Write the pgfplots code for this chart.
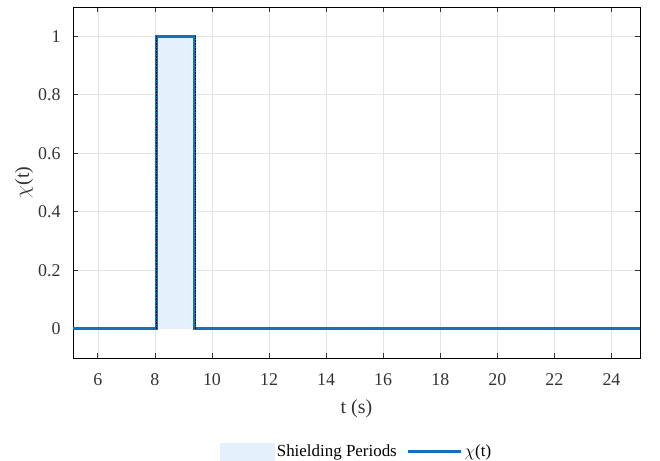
\documentclass[border=0pt]{standalone}
\usepackage{pgfplots}
\pgfplotsset{compat=1.18}
\usepackage{fontspec}
\setmainfont{Liberation Serif}
\definecolor{lineblue}{RGB}{20,112,190}
\definecolor{shadeblue}{RGB}{229,240,253}
\begin{document}
\begin{tikzpicture}
\useasboundingbox (0bp,0bp) rectangle (660bp,461bp);
\begin{axis}[
  at={(73bp,103bp)}, anchor=south west,
  width=567bp, height=351bp, scale only axis,
  xmin=5.13, xmax=25, ymin=-0.1, ymax=1.1,
  xtick={6,8,...,24}, ytick={0,0.2,0.4,0.6,0.8,1},
  yticklabels={0,0.2,0.4,0.6,0.8,1},
  grid=major, major grid style={gray!22, line width=0.6pt},
  tick align=inside, tick pos=both,
  major tick length=5bp,
  axis line style={black, line width=0.7pt},
  tick style={black!80, line width=0.7pt},
  /pgf/number format/assume math mode=true,
  ticklabel style={font=\fontsize{18}{20}\selectfont, text=black!80},
  xticklabel style={yshift=-12bp},
  yticklabel style={xshift=-9bp},
  xlabel={t (s)}, ylabel={$\chi$(t)},
  xlabel style={font=\fontsize{20}{22}\selectfont, text=black!80, yshift=-7bp},
  ylabel style={font=\fontsize{20}{22}\selectfont, text=black!80, yshift=-2bp},
  legend style={at={(0.5,-0.235)}, anchor=north, draw=none, fill=none,
    legend columns=2, font=\fontsize{17}{19}\selectfont,
    /tikz/every even column/.append style={column sep=8bp}},
  legend cell align=left,
]
\addplot[fill=shadeblue, draw=none,
  legend image code/.code={\fill[shadeblue] (0bp,-9bp) rectangle (55bp,9bp);}]
  coordinates {(8.05,0) (8.05,1) (9.4,1) (9.4,0)} \closedcycle;
\addlegendentry{Shielding Periods}
\addplot[lineblue, line width=2.8bp,
  legend image code/.code={\draw[lineblue, line width=2.8bp] (0bp,0bp) -- (53bp,0bp);}]
  coordinates {(5.13,0) (8.05,0) (8.05,1) (9.4,1) (9.4,0) (25,0)};
\addlegendentry{$\chi$(t)}
\addplot[black, densely dotted, line width=0.6pt, forget plot] coordinates {(8.05,0) (8.05,1)};
\addplot[black, densely dotted, line width=0.6pt, forget plot] coordinates {(9.4,0) (9.4,1)};
\end{axis}
\end{tikzpicture}
\end{document}
